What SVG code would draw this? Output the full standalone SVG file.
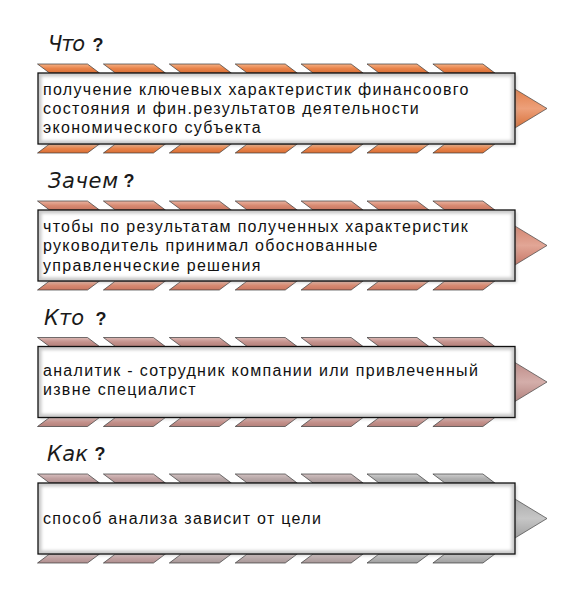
<svg xmlns="http://www.w3.org/2000/svg" width="569" height="599" viewBox="0 0 569 599">
<defs>
<style>
.title{font-family:"DejaVu Sans","Liberation Sans",sans-serif;font-style:oblique;font-weight:200;font-size:21px;fill:#1a1a1a}
.q{font-family:"Liberation Sans",Arial,sans-serif;font-weight:bold;font-size:18px;fill:#1a1a1a}
.body{font-family:"Liberation Sans",Arial,sans-serif;font-size:16px;letter-spacing:1.3px;fill:#111}
.chev{stroke:#3a3a3a;stroke-width:0.7}
.box{fill:#c9c9c9;stroke:#111;stroke-width:1.3}
.inner{fill:#fff;filter:url(#soft)}
.arr{stroke:#444;stroke-width:0.7}
</style>
<filter id="soft" x="-5%" y="-10%" width="110%" height="120%"><feGaussianBlur stdDeviation="1.6"/></filter>
<filter id="shadow" x="-5%" y="-10%" width="115%" height="130%"><feGaussianBlur stdDeviation="1.5"/></filter>
<linearGradient id="g1" x1="0" y1="0" x2="0" y2="1"><stop offset="0" stop-color="#f6b286"/><stop offset="0.5" stop-color="#e8834a"/><stop offset="1" stop-color="#d96e34"/></linearGradient>
<linearGradient id="g2" x1="0" y1="0" x2="0" y2="1"><stop offset="0" stop-color="#eab4a2"/><stop offset="0.5" stop-color="#d88a72"/><stop offset="1" stop-color="#c87660"/></linearGradient>
<linearGradient id="g3" x1="0" y1="0" x2="0" y2="1"><stop offset="0" stop-color="#dcb8b4"/><stop offset="0.5" stop-color="#c4928c"/><stop offset="1" stop-color="#b4807a"/></linearGradient>
<linearGradient id="g4a" x1="0" y1="0" x2="0" y2="1"><stop offset="0" stop-color="#d8c0c0"/><stop offset="0.5" stop-color="#c0a0a0"/><stop offset="1" stop-color="#b09090"/></linearGradient>
<linearGradient id="g4b" x1="0" y1="0" x2="0" y2="1"><stop offset="0" stop-color="#d2c2c2"/><stop offset="0.5" stop-color="#b8a8a8"/><stop offset="1" stop-color="#a89898"/></linearGradient>
<linearGradient id="g4c" x1="0" y1="0" x2="0" y2="1"><stop offset="0" stop-color="#cfcfcf"/><stop offset="0.5" stop-color="#b0b0b0"/><stop offset="1" stop-color="#a0a0a0"/></linearGradient>
<linearGradient id="a1" x1="0" y1="0" x2="0" y2="1"><stop offset="0" stop-color="#e07a44"/><stop offset="0.5" stop-color="#eda07a"/><stop offset="1" stop-color="#d46a30"/></linearGradient>
<linearGradient id="a2" x1="0" y1="0" x2="0" y2="1"><stop offset="0" stop-color="#d0806a"/><stop offset="0.5" stop-color="#e2a696"/><stop offset="1" stop-color="#c27060"/></linearGradient>
<linearGradient id="a3" x1="0" y1="0" x2="0" y2="1"><stop offset="0" stop-color="#bc8884"/><stop offset="0.5" stop-color="#d4aeaa"/><stop offset="1" stop-color="#ae7c78"/></linearGradient>
<linearGradient id="a4" x1="0" y1="0" x2="0" y2="1"><stop offset="0" stop-color="#a8a8a8"/><stop offset="0.5" stop-color="#c6c6c6"/><stop offset="1" stop-color="#9c9c9c"/></linearGradient>
<path id="ct" d="M0,-9 L50,-9 L62,0 L12,0 Z"/>
<path id="cb" d="M12,0 L62,0 L50,9 L0,9 Z"/>
</defs>
<rect width="569" height="599" fill="#fff"/>

<g id="node-1">
<text class="title" x="48" y="51" textLength="37" lengthAdjust="spacing">Что</text>
<text class="q" x="92.5" y="50.5">?</text>
<g class="chev" fill="url(#g1)">
<use href="#ct" x="37.5" y="73"/><use href="#ct" x="103.4" y="73"/><use href="#ct" x="169.3" y="73"/><use href="#ct" x="235.2" y="73"/><use href="#ct" x="301.1" y="73"/><use href="#ct" x="367" y="73"/><use href="#ct" x="432.9" y="73"/>
<use href="#cb" x="37.5" y="144"/><use href="#cb" x="103.4" y="144"/><use href="#cb" x="169.3" y="144"/><use href="#cb" x="235.2" y="144"/><use href="#cb" x="301.1" y="144"/><use href="#cb" x="367" y="144"/><use href="#cb" x="432.9" y="144"/>
</g>
<path class="arr" fill="url(#a1)" d="M510,86 L547,108.5 L510,131 Z"/>
<rect x="40" y="75" width="477" height="71" fill="#999" opacity="0.35" filter="url(#shadow)"/>
<rect class="box" x="38" y="73" width="477" height="71"/>
<rect class="inner" x="41.5" y="76.5" width="470" height="64"/>
<text class="body" x="43" y="95">получение ключевых характеристик финансоовго</text>
<text class="body" x="43" y="114">состояния и фин.результатов деятельности</text>
<text class="body" x="43" y="133">экономического субъекта</text>
</g>

<g id="node-2">
<text class="title" x="48" y="187.5" textLength="70" lengthAdjust="spacing">Зачем</text>
<text class="q" x="123.5" y="187">?</text>
<g class="chev" fill="url(#g2)">
<use href="#ct" x="37.5" y="210"/><use href="#ct" x="103.4" y="210"/><use href="#ct" x="169.3" y="210"/><use href="#ct" x="235.2" y="210"/><use href="#ct" x="301.1" y="210"/><use href="#ct" x="367" y="210"/><use href="#ct" x="432.9" y="210"/>
<use href="#cb" x="37.5" y="281"/><use href="#cb" x="103.4" y="281"/><use href="#cb" x="169.3" y="281"/><use href="#cb" x="235.2" y="281"/><use href="#cb" x="301.1" y="281"/><use href="#cb" x="367" y="281"/><use href="#cb" x="432.9" y="281"/>
</g>
<path class="arr" fill="url(#a2)" d="M510,223 L547,245.5 L510,268 Z"/>
<rect x="40" y="212" width="477" height="71" fill="#999" opacity="0.35" filter="url(#shadow)"/>
<rect class="box" x="38" y="210" width="477" height="71"/>
<rect class="inner" x="41.5" y="213.5" width="470" height="64"/>
<text class="body" x="43" y="231.5">чтобы по результатам полученных характеристик</text>
<text class="body" x="43" y="251">руководитель принимал обоснованные</text>
<text class="body" x="43" y="270.5">управленческие решения</text>
</g>

<g id="node-3">
<text class="title" x="44" y="325" textLength="40" lengthAdjust="spacing">Кто</text>
<text class="q" x="95.5" y="324.5">?</text>
<g class="chev" fill="url(#g3)">
<use href="#ct" x="37.5" y="346.5"/><use href="#ct" x="103.4" y="346.5"/><use href="#ct" x="169.3" y="346.5"/><use href="#ct" x="235.2" y="346.5"/><use href="#ct" x="301.1" y="346.5"/><use href="#ct" x="367" y="346.5"/><use href="#ct" x="432.9" y="346.5"/>
<use href="#cb" x="37.5" y="417.5"/><use href="#cb" x="103.4" y="417.5"/><use href="#cb" x="169.3" y="417.5"/><use href="#cb" x="235.2" y="417.5"/><use href="#cb" x="301.1" y="417.5"/><use href="#cb" x="367" y="417.5"/><use href="#cb" x="432.9" y="417.5"/>
</g>
<path class="arr" fill="url(#a3)" d="M510,359.5 L547,382 L510,404.5 Z"/>
<rect x="40" y="348.5" width="477" height="71" fill="#999" opacity="0.35" filter="url(#shadow)"/>
<rect class="box" x="38" y="346.5" width="477" height="71"/>
<rect class="inner" x="41.5" y="350" width="470" height="64"/>
<text class="body" x="43" y="376">аналитик - сотрудник компании или привлеченный</text>
<text class="body" x="43" y="395">извне специалист</text>
</g>

<g id="node-4">
<text class="title" x="47" y="460.5" textLength="41" lengthAdjust="spacing">Как</text>
<text class="q" x="94.5" y="460">?</text>
<g class="chev">
<use href="#ct" x="37.5" y="483" fill="url(#g4a)"/><use href="#ct" x="103.4" y="483" fill="url(#g4a)"/><use href="#ct" x="169.3" y="483" fill="url(#g4b)"/><use href="#ct" x="235.2" y="483" fill="url(#g4b)"/><use href="#ct" x="301.1" y="483" fill="url(#g4b)"/><use href="#ct" x="367" y="483" fill="url(#g4c)"/><use href="#ct" x="432.9" y="483" fill="url(#g4c)"/>
<use href="#cb" x="37.5" y="554" fill="url(#g4a)"/><use href="#cb" x="103.4" y="554" fill="url(#g4a)"/><use href="#cb" x="169.3" y="554" fill="url(#g4b)"/><use href="#cb" x="235.2" y="554" fill="url(#g4b)"/><use href="#cb" x="301.1" y="554" fill="url(#g4b)"/><use href="#cb" x="367" y="554" fill="url(#g4c)"/><use href="#cb" x="432.9" y="554" fill="url(#g4c)"/>
</g>
<path class="arr" fill="url(#a4)" d="M510,496 L547,518.5 L510,541 Z"/>
<rect x="40" y="485" width="477" height="71" fill="#999" opacity="0.35" filter="url(#shadow)"/>
<rect class="box" x="38" y="483" width="477" height="71"/>
<rect class="inner" x="41.5" y="486.5" width="470" height="64"/>
<text class="body" x="43" y="523.5">способ анализа зависит от цели</text>
</g>

<g id="connectors"></g>
</svg>
